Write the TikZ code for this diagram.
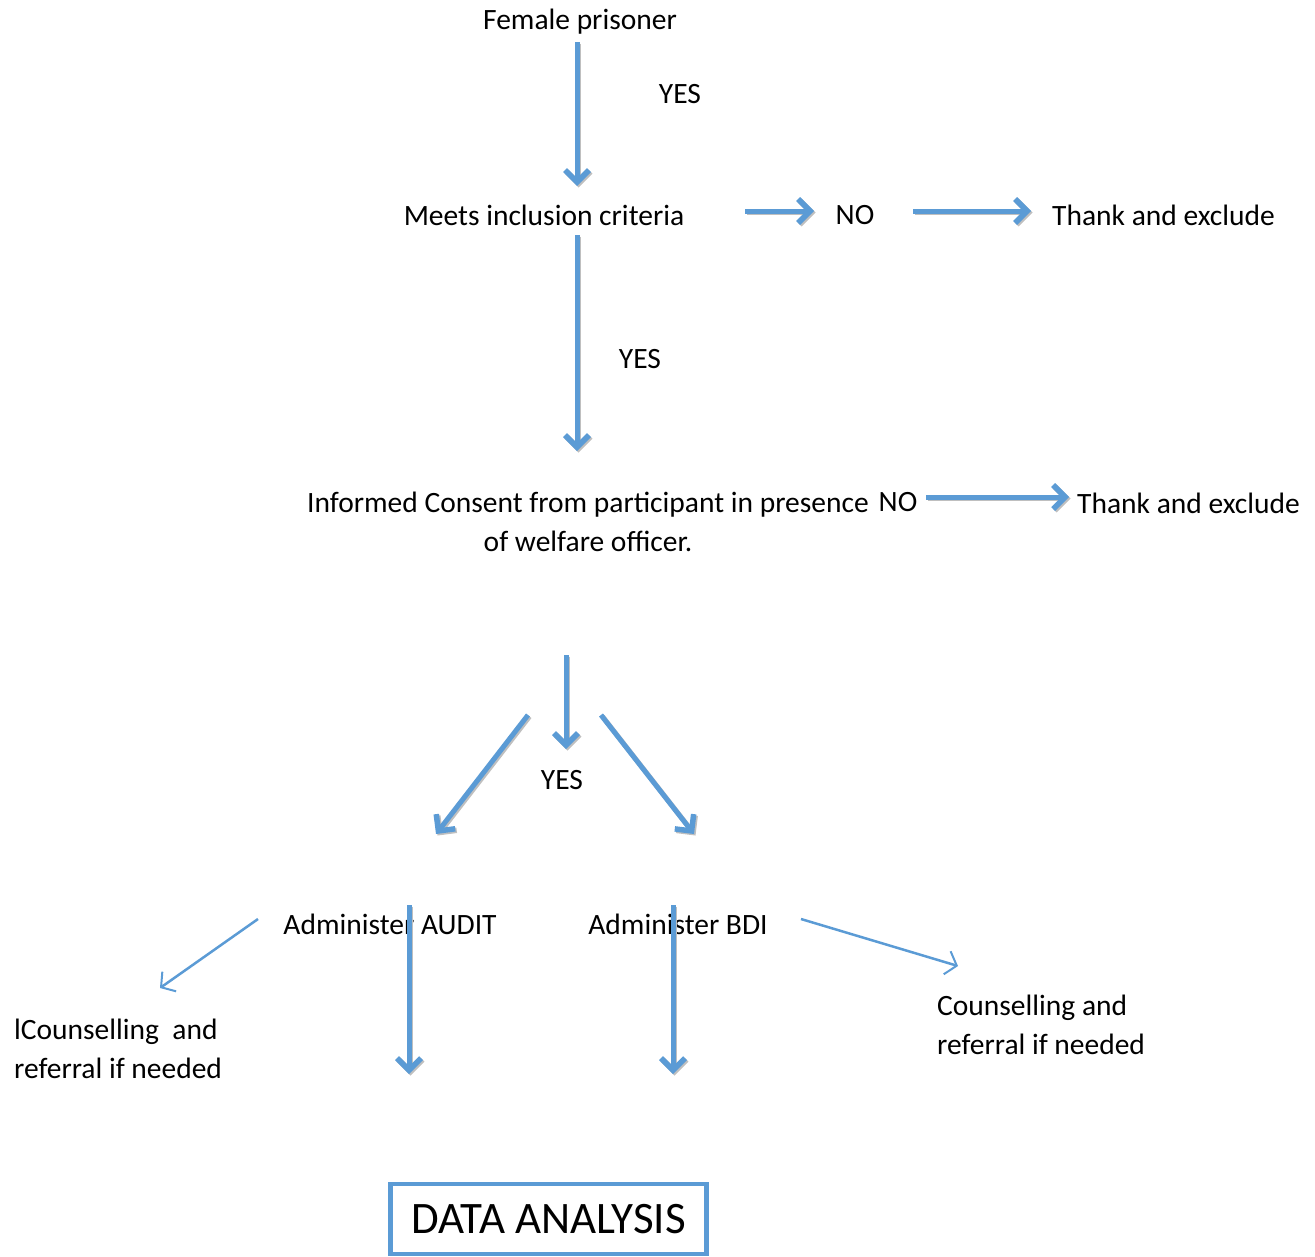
\documentclass[tikz,border=0pt]{standalone}
\usepackage{fontspec}
\setmainfont{Carlito}
\usetikzlibrary{arrows.meta}
\definecolor{ablue}{HTML}{5B9BD5}
\tikzset{
  txt/.style={inner sep=0pt, font=\fontsize{29.5bp}{39bp}\selectfont, text=black},
  bigarrow/.style={draw=ablue, line width=5bp, -{Straight Barb[length=12bp,width=24bp,line width=5.5bp]},
    preaction={draw=gray!50, line width=5bp, -{Straight Barb[length=12bp,width=24bp,line width=5.5bp]},
      transform canvas={xshift=1.5bp,yshift=-1.5bp}}},
  thinarrow/.style={draw=ablue, line width=2.5bp, -{Straight Barb[length=10bp,width=24bp,line width=2bp]}},
  databox/.style={draw=ablue, line width=4.5bp, minimum width=316bp, minimum height=70bp, inner sep=0pt,
    font=\fontsize{45bp}{48bp}\selectfont, text=black}
}
\begin{document}
\begin{tikzpicture}[x=1bp,y=-1bp]
\useasboundingbox (0,0) rectangle (1315,1256);
% texts
\node[txt] (fp) at (580,22) {Female prisoner};
\node[txt] (yes1) at (680,94) {YES};
\node[txt] (mic) at (544,215) {Meets inclusion criteria};
\node[txt] (no1) at (855,215) {NO};
\node[txt, anchor=west] (te1) at (1052,215) {Thank and exclude};
\node[txt] (yes2) at (640,359) {YES};
\node[txt, align=center] (ic) at (588,521.5) {Informed Consent from participant in presence\\of welfare officer.};
\node[txt] (no2) at (898,502) {NO};
\node[txt, anchor=west] (te2) at (1077,503) {Thank and exclude};
\node[txt] (yes3) at (562,780) {YES};
\node[txt] (audit) at (390,924) {Administer AUDIT};
\node[txt] (bdi) at (678,924) {Administer BDI};
\node[txt, anchor=west, align=left] (cl) at (14,1048.5) {lCounselling\ \ and\\referral if needed};
\node[txt, anchor=west, align=left] (cr) at (937,1024.5) {Counselling and\\referral if needed};
\node[databox] (data) at (548.5,1219) {\raisebox{-4bp}{DATA ANALYSIS}};
% arrow endpoints
\coordinate (a1s) at (577,42);   \coordinate (a1e) at (577,186);
\coordinate (a2s) at (745,211);  \coordinate (a2e) at (814,211);
\coordinate (a3s) at (913,211);  \coordinate (a3e) at (1031,211);
\coordinate (a4s) at (577,235);  \coordinate (a4e) at (577,451);
\coordinate (a5s) at (926,497);  \coordinate (a5e) at (1069,497);
\coordinate (a6s) at (566,655);  \coordinate (a6e) at (566,749);
\coordinate (a7s) at (528,715);  \coordinate (a7e) at (436,834);
\coordinate (a8s) at (601,715);  \coordinate (a8e) at (694,834);
\coordinate (a9s) at (409,905);  \coordinate (a9e) at (409,1074);
\coordinate (a10s) at (673,905); \coordinate (a10e) at (673,1074);
\coordinate (t1s) at (258,919);  \coordinate (t1e) at (160,988);
\coordinate (t2s) at (801,919);  \coordinate (t2e) at (958,966);
% arrows
\draw[bigarrow] (a1s) -- (a1e);
\draw[bigarrow] (a2s) -- (a2e);
\draw[bigarrow] (a3s) -- (a3e);
\draw[bigarrow] (a4s) -- (a4e);
\draw[bigarrow] (a5s) -- (a5e);
\draw[bigarrow] (a6s) -- (a6e);
\draw[bigarrow] (a7s) -- (a7e);
\draw[bigarrow] (a8s) -- (a8e);
\draw[bigarrow] (a9s) -- (a9e);
\draw[bigarrow] (a10s) -- (a10e);
\draw[thinarrow] (t1s) -- (t1e);
\draw[thinarrow] (t2s) -- (t2e);
\end{tikzpicture}
\end{document}
